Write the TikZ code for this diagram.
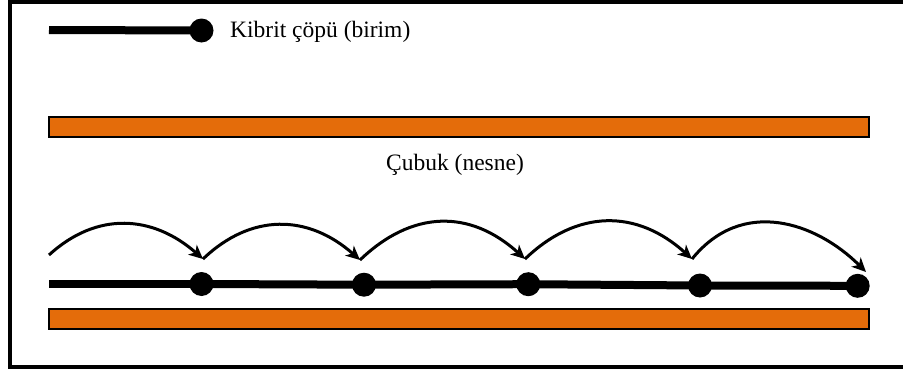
\documentclass[tikz,border=0pt]{standalone}
\usepackage{fontspec}
\setmainfont{Liberation Serif}
\usetikzlibrary{arrows.meta}
\definecolor{rodorange}{HTML}{E46C0A}
\begin{document}
\begin{tikzpicture}[x=1pt,y=-1pt,
  frame/.style={draw=black,line width=4pt},
  rod/.style={draw=black,fill=rodorange,line width=2pt},
  stick/.style={line width=8pt,draw=black},
  head/.style={circle,fill=black,inner sep=0pt,minimum size=24pt},
  hop/.style={line width=3pt,-{Stealth[length=14pt,width=13pt,inset=4pt]}},
  label/.style={font=\fontsize{23.5}{28}\selectfont,inner sep=0pt}]
  \useasboundingbox (0,0) rectangle (903,372);

  % outer frame (its right side runs off the page)
  \draw[frame] (10,2.3) rectangle (912,367);

  % legend: one matchstick as the unit
  \coordinate (ls) at (49,30);
  \node[head] (lh) at (201.5,30.5) {};
  \draw[stick] (ls) -- (lh.center);
  \node[label,anchor=base west] (lt) at (230,37.5) {Kibrit çöpü (birim)};

  % the rod to be measured
  \node[rod,minimum width=820pt,minimum height=20pt,anchor=north west] (rodA) at (48,116) {};
  \node[label,anchor=base] (rt) at (455,170) {Çubuk (nesne)};

  % matchsticks laid end to end
  \coordinate (s0) at (49,284);
  \node[head] (d1) at (201.5,284) {};
  \node[head] (d2) at (364,284.7) {};
  \node[head] (d3) at (528.3,284.2) {};
  \node[head] (d4) at (700,285.5) {};
  \node[head] (d5) at (857.7,285.8) {};
  \draw[stick] (s0) -- (d1.center);
  \draw[stick] (d1.center) -- (d2.center);
  \draw[stick] (d2.center) -- (d3.center);
  \draw[stick] (d3.center) -- (d4.center);
  \draw[stick] (d4.center) -- (d5.center);

  % the same rod again, under the matchsticks
  \node[rod,minimum width=820pt,minimum height=20pt,anchor=north west] (rodB) at (48,308) {};

  % hops from one matchstick end to the next
  \coordinate (a0) at (49,255);
  \coordinate (a1) at (203,259);
  \coordinate (a2) at (360,260);
  \coordinate (a3) at (525,259);
  \coordinate (a4) at (692,259);
  \coordinate (a5) at (866,272);
  \draw[hop] (a0) .. controls +(48,-44) and +(-50,-44) .. (a1);
  \draw[hop] (a1) .. controls +(48,-46) and +(-52,-46) .. (a2);
  \draw[hop] (a2) .. controls +(52,-50) and +(-55,-50) .. (a3);
  \draw[hop] (a3) .. controls +(52,-50) and +(-55,-50) .. (a4);
  \draw[hop] (a4) .. controls +(50,-62) and +(-50,-50) .. (a5);
\end{tikzpicture}
\end{document}
